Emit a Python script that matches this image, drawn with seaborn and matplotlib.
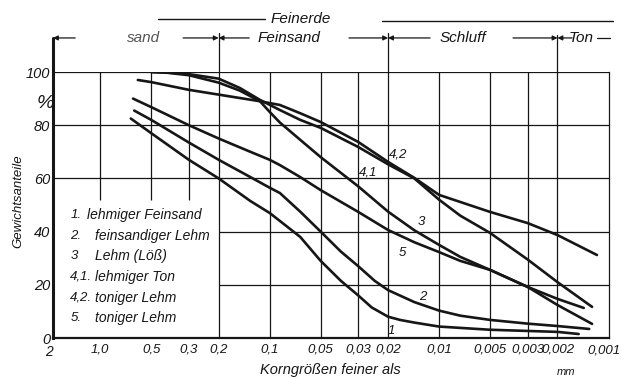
import pandas as pd
import matplotlib
matplotlib.use("Agg")
import matplotlib.pyplot as plt
import seaborn as sns
from matplotlib.ticker import FixedLocator, FixedFormatter, NullFormatter

# grain size d (mm) and weight percent finer than d
d_1 = [0.66, 0.5, 0.3, 0.2, 0.13, 0.1, 0.087, 0.066, 0.05, 0.038, 0.03, 0.025, 0.02, 0.017, 0.014, 0.01, 0.005, 0.002, 0.0015]
p_1 = [82.5, 77, 67, 60, 51.5, 47, 44, 38, 29, 21.5, 16, 11.5, 8, 6.8, 5.8, 4.3, 3.1, 2.3, 1.5]

d_2 = [0.63, 0.5, 0.3, 0.2, 0.13, 0.1, 0.087, 0.066, 0.05, 0.038, 0.03, 0.024, 0.02, 0.014, 0.01, 0.0075, 0.005, 0.003, 0.002, 0.0013]
p_2 = [85.5, 82, 73.5, 67, 60.5, 56.5, 54.5, 47.5, 40, 32.5, 27, 21.5, 18, 13.5, 10.3, 8.4, 6.8, 5.4, 4.5, 3.4]

d_3 = [0.5, 0.4, 0.3, 0.2, 0.15, 0.114, 0.1, 0.087, 0.066, 0.05, 0.03, 0.02, 0.014, 0.01, 0.0075, 0.005, 0.003, 0.002, 0.0014]
p_3 = [100, 99.7, 98.8, 96, 93, 89, 85, 81, 74.5, 68, 57, 47.5, 40.5, 35, 30.5, 25.6, 19.2, 14.7, 11.3]

d_41 = [0.5, 0.4, 0.3, 0.2, 0.15, 0.114, 0.087, 0.066, 0.05, 0.03, 0.02, 0.014, 0.01, 0.0075, 0.005, 0.003, 0.002, 0.00125]
p_41 = [100, 99.8, 99.2, 97.5, 94, 89.5, 85.7, 82, 79, 71.8, 65.3, 60, 52, 46, 39.5, 29.5, 21, 11.7]

d_42 = [0.6, 0.5, 0.3, 0.2, 0.114, 0.087, 0.066, 0.05, 0.03, 0.02, 0.014, 0.01, 0.005, 0.003, 0.002, 0.00117]
p_42 = [97, 96.2, 93.3, 91.5, 89, 87.6, 84.5, 81.2, 73.7, 66.2, 60.2, 53.8, 47.4, 43.2, 38.7, 31.2]

d_5 = [0.64, 0.5, 0.3, 0.2, 0.13, 0.1, 0.087, 0.066, 0.05, 0.03, 0.02, 0.014, 0.01, 0.0075, 0.005, 0.003, 0.002, 0.00125]
p_5 = [90, 86.8, 80, 75, 70, 67, 65, 60.5, 55.6, 47.4, 40.6, 36, 32.3, 29, 25.6, 19.2, 12.4, 5.3]

curve_ids = ["1", "2", "3", "4,1", "4,2", "5"]

legend_nums = ["1.", "2.", "3", "4,1.", "4,2.", "5."]
legend_names = ["lehmiger Feinsand", "feinsandiger Lehm", "Lehm (Löß)",
                "lehmiger Ton", "toniger Lehm", "toniger Lehm"]

x_ticks = [1.0, 0.5, 0.3, 0.2, 0.1, 0.05, 0.03, 0.02, 0.01, 0.005, 0.003, 0.002, 0.001]
x_ticklabels = ["1,0", "0,5", "0,3", "0,2", "0,1", "0,05", "0,03", "0,02", "0,01",
                "0,005", "0,003", "0,002", ""]
x_minor = [0.9, 0.8, 0.7, 0.6, 0.4, 0.09, 0.08, 0.07, 0.06, 0.04,
           0.009, 0.008, 0.007, 0.006, 0.004]
y_ticks = [0, 20, 40, 60, 80, 100]

grid_full = [0.2, 0.1, 0.05, 0.03, 0.02, 0.01, 0.005, 0.003, 0.002]
grid_short = [1.0, 0.5, 0.3]
class_bounds = [0.2, 0.02, 0.002]

frames = []
for cid, d, p in zip(curve_ids, [d_1, d_2, d_3, d_41, d_42, d_5],
                     [p_1, p_2, p_3, p_41, p_42, p_5]):
    frames.append(pd.DataFrame({"d": d, "p": p, "curve": cid}))
df = pd.concat(frames, ignore_index=True)

sns.set_style("white")
plt.rcParams["font.family"] = ["Liberation Sans", "DejaVu Sans"]
plt.rcParams["font.style"] = "italic"

ink = "#161616"
fig = plt.figure(figsize=(6.21, 3.79), dpi=100)
ax = fig.add_axes([53 / 621, 41 / 379, 555.5 / 621, 266 / 379])

# grid drawn by hand, the legend box on the lower left blanks part of it
for v in [60, 80, 100]:
    ax.axhline(v, color=ink, lw=0.9, zorder=1)
for v in [20, 40]:
    ax.hlines(v, 0.2, 0.001, color=ink, lw=0.9, zorder=1)
ax.vlines(grid_full, 0, 100, color=ink, lw=0.9, zorder=1)
ax.vlines(grid_short, 52, 100, color=ink, lw=0.9, zorder=1)

sns.lineplot(data=df, x="d", y="p", units="curve", estimator=None, sort=False,
             color=ink, lw=1.9, ax=ax, legend=False, zorder=3)

ax.set_xscale("log")
ax.set_xlim(1.9, 0.001)
ax.set_ylim(0, 100)
ax.set_xlabel("")
ax.set_ylabel("")

ax.xaxis.set_major_locator(FixedLocator(x_ticks))
ax.xaxis.set_major_formatter(FixedFormatter(x_ticklabels))
ax.xaxis.set_minor_locator(FixedLocator(x_minor))
ax.xaxis.set_minor_formatter(NullFormatter())
ax.yaxis.set_major_locator(FixedLocator(y_ticks))
ax.tick_params(axis="x", which="both", direction="in", length=7, width=0.9,
               color=ink, labelsize=9.5, pad=4, labelcolor=ink)
ax.tick_params(axis="y", direction="in", length=7, width=0.9, color=ink,
               labelsize=10.5, pad=2, labelcolor=ink)
xt = ax.get_xaxis_transform()
ax.text(2.0, -0.025, "2", transform=xt, ha="center", va="top", fontsize=10, color=ink)
ax.text(0.00106, -0.025, "0,001", transform=xt, ha="center", va="top", fontsize=9.5, color=ink)

for side in ["left", "bottom", "right", "top"]:
    ax.spines[side].set_color(ink)
ax.spines["left"].set_linewidth(2.2)
ax.spines["bottom"].set_linewidth(1.6)
ax.spines["right"].set_linewidth(0.9)
ax.spines["top"].set_visible(False)

# curve numbers
for txt, x, y in [("1", 0.0192, 2.6), ("2", 0.0124, 15.4), ("3", 0.0127, 43.6),
                  ("5", 0.0165, 32), ("4,2", 0.0175, 68.8), ("4,1", 0.0262, 62.4)]:
    ax.text(x, y, txt, ha="center", va="center", fontsize=9.5, color=ink)

# legend as plain text lines
for i, (n, name) in enumerate(zip(legend_nums, legend_names)):
    yy = 0.462 - i * 0.0775
    ax.text(0.031, yy, n, transform=ax.transAxes, va="center", fontsize=9.5, color=ink)
    ax.text(0.061 if i == 0 else 0.076, yy, name, transform=ax.transAxes,
            va="center", fontsize=10, color=ink)

# soil class bar above the plot
for b, top in zip(class_bounds, [1.147, 1.147, 1.139]):
    ax.plot([b, b], [1.0, top], color=ink, lw=0.9, transform=xt, clip_on=False)
ax.plot([1.9, 1.9], [1.0, 1.128], color=ink, lw=2.2, transform=xt, clip_on=False)

arrow = dict(arrowstyle="-|>", color=ink, lw=0.9, mutation_scale=7,
             shrinkA=0, shrinkB=0)
for x0, x1 in [(1.405, 1.9), (0.324, 0.2), (0.132, 0.2), (0.034, 0.02),
               (0.0113, 0.02), (0.00366, 0.002), (0.00164, 0.002)]:
    ax.annotate("", xy=(x1, 1.128), xytext=(x0, 1.128), xycoords=xt,
                textcoords=xt, arrowprops=arrow, annotation_clip=False)
ax.plot([0.00117, 0.00098], [1.128, 1.128], color=ink, lw=0.9, transform=xt, clip_on=False)
ax.plot([0.455, 0.1063], [1.199, 1.199], color=ink, lw=1.0, transform=xt, clip_on=False)
ax.plot([0.0217, 0.00094], [1.192, 1.192], color=ink, lw=1.0, transform=xt, clip_on=False)

ax.text(0.066, 1.199, "Feinerde", transform=xt, ha="center", va="center", fontsize=11, color=ink)
ax.text(0.443, 1.128, "sand", transform=xt, ha="right", va="center", fontsize=11, color="#555555")
ax.text(0.0767, 1.128, "Feinsand", transform=xt, ha="center", va="center", fontsize=11, color=ink)
ax.text(0.00722, 1.128, "Schluff", transform=xt, ha="center", va="center", fontsize=11, color=ink)
ax.text(0.00145, 1.128, "Ton", transform=xt, ha="center", va="center", fontsize=11, color=ink)

fig.text(45 / 621, 1 - 103 / 379, "%", ha="center", va="center", fontsize=14, color=ink)
fig.text(18 / 621, 1 - 201 / 379, "Gewichtsanteile", rotation=90, ha="center",
         va="center", fontsize=9.5, color=ink)
fig.text(330 / 621, 1 - 363 / 379, "Korngrößen feiner als", ha="center", va="top",
         fontsize=10.5, color=ink)
fig.text(566 / 621, 1 - 372 / 379, "mm", ha="center", va="center", fontsize=8, color=ink)

fig.savefig("out.png", dpi=100, facecolor="white")
